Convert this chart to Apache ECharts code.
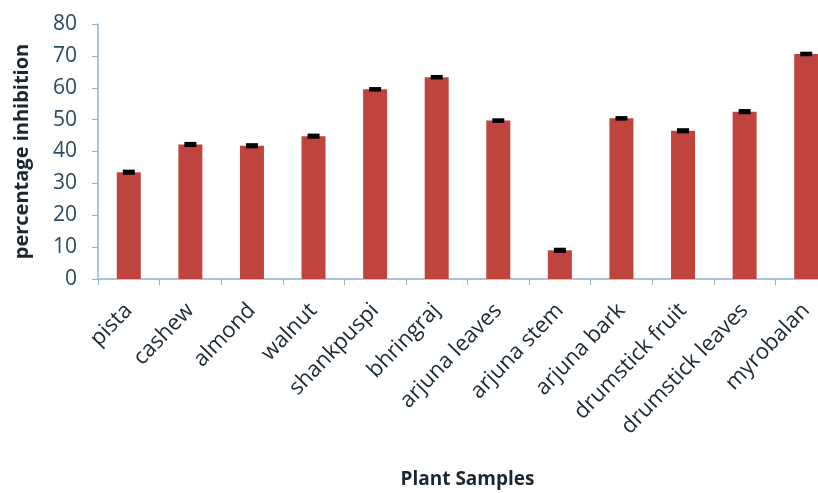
<!DOCTYPE html>
<html><head><meta charset="utf-8">
<script src="https://cdn.jsdelivr.net/npm/echarts@6/dist/echarts.min.js"></script>
<style>html,body{margin:0;padding:0;background:#fff}#c{width:818px;height:493px}</style>
</head><body><div id="c"></div>
<script>
const categories = ['pista','cashew','almond','walnut','shankpuspi','bhringraj','arjuna leaves','arjuna stem','arjuna bark','drumstick fruit','drumstick leaves','myrobalan'];
const values = [33.5, 42.2, 41.8, 44.8, 59.5, 63.3, 49.7, 9.0, 50.4, 46.5, 52.5, 70.6];
const errors = [0.5, 0.5, 0.5, 0.5, 0.4, 0.4, 0.4, 0.5, 0.4, 0.5, 0.5, 0.4];
const yTicks = {min: 0, max: 80, interval: 10};

const chart = echarts.init(document.getElementById('c'));
chart.setOption({
  animation: false,
  grid: {left: 98, width: 739, top: 24, height: 255, containLabel: false, outerBoundsMode: 'none'},
  xAxis: {
    type: 'category', data: categories,
    name: 'Plant Samples', nameLocation: 'middle', nameGap: 191,
    nameTextStyle: {fontFamily: 'Open Sans', fontWeight: 'bold', fontSize: 19, color: '#1a2630'},
    axisLine: {lineStyle: {color: '#8db3cf', width: 1.5}},
    axisTick: {show: true, alignWithLabel: false, length: 6, lineStyle: {color: '#8db3cf'}},
    axisLabel: {rotate: 46, fontFamily: 'Open Sans', fontSize: 22, color: '#1a2a35', margin: 28, interval: 0}
  },
  yAxis: {
    type: 'value', min: yTicks.min, max: yTicks.max, interval: yTicks.interval,
    name: 'percentage inhibition', nameLocation: 'middle', nameGap: 66, nameRotate: 90,
    nameTextStyle: {fontFamily: 'Open Sans', fontWeight: 'bold', fontSize: 20, color: '#1a2630'},
    axisLine: {show: true, lineStyle: {color: '#8db3cf', width: 1.5}},
    axisTick: {show: true, length: 6, lineStyle: {color: '#8db3cf'}},
    splitLine: {show: false},
    axisLabel: {fontFamily: 'Open Sans', fontSize: 21, color: '#2a4a60', margin: 21}
  },
  series: [
    {type: 'bar', data: values, barWidth: 24, itemStyle: {color: '#c0443e'}},
    {type: 'custom', data: values.map((v, i) => [i, v, errors[i]]),
     renderItem: function (params, api) {
       const x = api.value(0), v = api.value(1), e = api.value(2);
       const hi = api.coord([x, v + e]), lo = api.coord([x, v - e]);
       const hw = 6;
       return {type: 'group', children: [
         {type: 'line', shape: {x1: hi[0], y1: hi[1], x2: lo[0], y2: lo[1]}, style: {stroke: '#000', lineWidth: 1.5}},
         {type: 'rect', shape: {x: hi[0] - hw, y: hi[1] - 1, width: hw * 2, height: lo[1] - hi[1] + 2}, style: {fill: '#000'}}
       ]};
     }, z: 5}
  ]
});
</script></body></html>
